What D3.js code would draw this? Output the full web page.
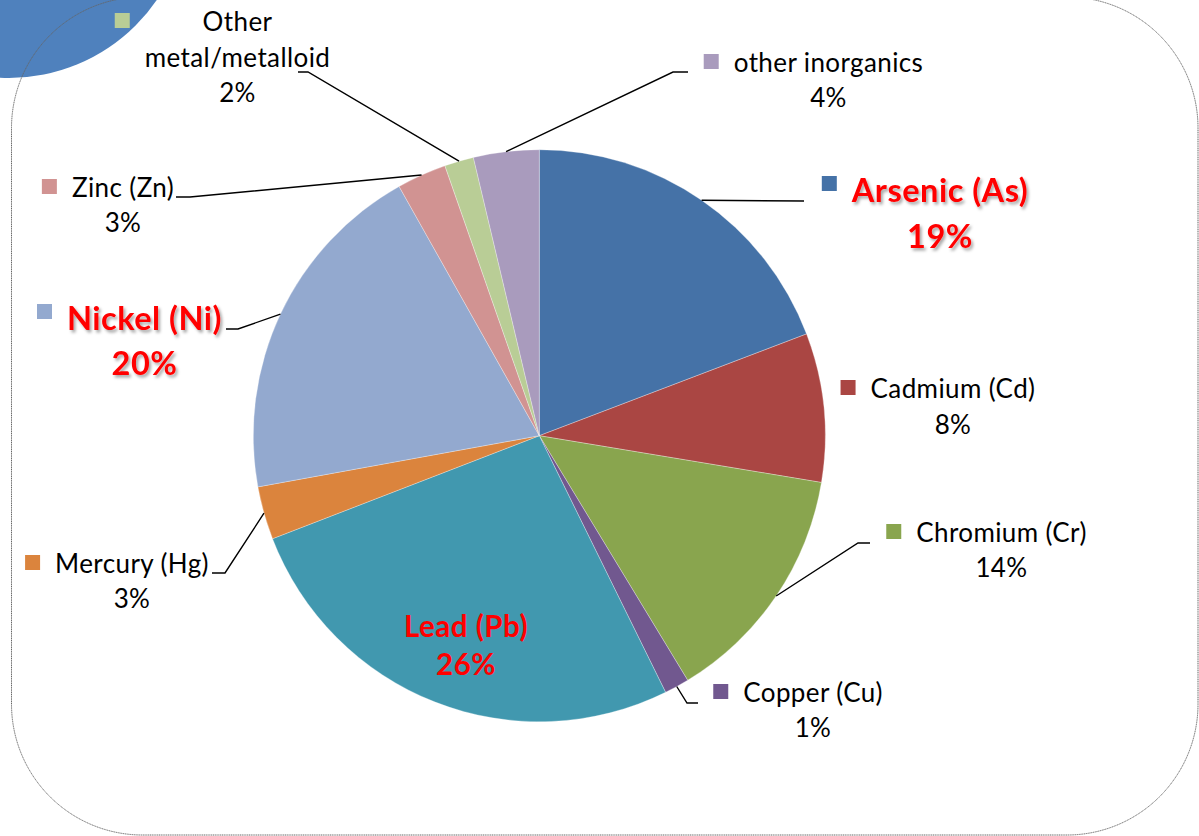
<!DOCTYPE html>
<html>
<head>
<meta charset="utf-8">
<script src="https://cdn.jsdelivr.net/npm/d3@7"></script>
<style>
  html, body { margin: 0; padding: 0; background: #ffffff; }
  svg { display: block; }
</style>
</head>
<body>
<div id="chart"></div>
<script>
// ---- data ----
const categories = ["Arsenic (As)", "Cadmium (Cd)", "Chromium (Cr)", "Copper (Cu)", "Lead (Pb)",
                    "Mercury (Hg)", "Nickel (Ni)", "Zinc (Zn)", "Other metal/metalloid", "other inorganics"];
const values = [19.2, 8.4, 13.7, 1.4, 26.4, 3.0, 19.7, 2.8, 1.65, 3.7];
const colors = ["#4572A7", "#AA4643", "#89A54E", "#71588F", "#4198AF",
                "#DB843D", "#93A9CF", "#D19392", "#B9CD96", "#A99BBD"];
const highlighted = ["Arsenic (As)", "Lead (Pb)", "Nickel (Ni)"];

// ---- layout (positions of label blocks, not data) ----
const labelLayout = {
  "Arsenic (As)":          { cx: 940,   y: 202, lh: 46, size: 32.5, key: true,  shadow: true,  elbow: [[804, 201]] },
  "Cadmium (Cd)":          { cx: 953,   y: 398, lh: 36, key: true,  elbow: null },
  "Chromium (Cr)":         { cx: 1001.5,y: 542, lh: 35, key: true,  elbow: [[858, 543], [870, 543]] },
  "Copper (Cu)":           { cx: 813,   y: 702, lh: 35, key: true,  elbow: [[687, 703], [698, 703]] },
  "Lead (Pb)":             { cx: 466,   y: 637, lh: 38, size: 29.5, key: false, elbow: null },
  "Mercury (Hg)":          { cx: 132,   y: 573, lh: 35, key: true,  elbow: [[225, 573], [212, 573]] },
  "Nickel (Ni)":           { cx: 144.5, y: 330, lh: 45, size: 32.5, key: true,  shadow: true, elbow: [[238, 329], [226, 329]] },
  "Zinc (Zn)":             { cx: 123,   y: 197, lh: 35, key: true,  elbow: [[190, 197], [176, 197]] },
  "Other metal/metalloid": { cx: 237.5, y: 31,  lh: 35.5, key: true, lines: ["Other", "metal/metalloid"], elbow: [[308, 72], [298, 72]] },
  "other inorganics":      { cx: 828.5, y: 72,  lh: 35, key: true,  elbow: [[673, 72], [688, 72]] }
};

const W = 1199, H = 836;
const cx = 539.3, cy = 435.7, R = 286;
const FONT = "Lato, 'Open Sans', sans-serif";

const svg = d3.select("#chart").append("svg").attr("width", W).attr("height", H);

const defs = svg.append("defs");
const f = defs.append("filter").attr("id", "shadow").attr("x", "-10%").attr("y", "-20%")
  .attr("width", "130%").attr("height", "150%");
f.append("feDropShadow").attr("dx", 2).attr("dy", 2.5).attr("stdDeviation", 1.6)
  .attr("flood-color", "#000").attr("flood-opacity", 0.35);

// decorative circle top-left
svg.append("circle").attr("cx", 9).attr("cy", -101).attr("r", 179).attr("fill", "#4F81BD");

// rounded frame
svg.append("rect").attr("x", 11.5).attr("y", -3).attr("width", 1186.5).attr("height", 838)
  .attr("rx", 131).attr("ry", 131)
  .attr("fill", "none").attr("stroke", "#666").attr("stroke-width", 1)
  .attr("stroke-dasharray", "1.2 0.6");

const total = d3.sum(values);
const data = categories.map((c, i) => ({ name: c, value: values[i], color: colors[i] }));

const pie = d3.pie().sort(null).value(d => d.value).startAngle(0).endAngle(2 * Math.PI);
const arcs = pie(data);
const arc = d3.arc().innerRadius(0).outerRadius(R);
const edge = d3.arc().innerRadius(R).outerRadius(R);

const g = svg.append("g").attr("transform", `translate(${cx},${cy})`);
g.selectAll("path.slice").data(arcs).join("path")
  .attr("class", "slice")
  .attr("d", arc)
  .attr("fill", d => d.data.color)
  .attr("stroke", "#ffffff").attr("stroke-opacity", 0.5).attr("stroke-width", 0.6);

// leader lines
const line = d3.line();
arcs.forEach(a => {
  const L = labelLayout[a.data.name];
  if (!L.elbow) return;
  const p = edge.centroid(a);
  const pts = [[p[0] + cx, p[1] + cy]].concat(L.elbow);
  svg.append("path").attr("d", line(pts))
    .attr("fill", "none").attr("stroke", "#000").attr("stroke-width", 1.4);
});

// labels
arcs.forEach(a => {
  const name = a.data.name;
  const L = labelLayout[name];
  const hl = highlighted.includes(name);
  const pct = Math.round(a.data.value / total * 100) + "%";
  const lines = (L.lines || [name]).concat([pct]);
  const lg = svg.append("g");
  const t = lg.append("text")
    .attr("text-anchor", "middle")
    .attr("font-family", FONT)
    .attr("font-size", L.size || 26)
    .attr("letter-spacing", hl ? 0.5 : 0.4)
    .attr("font-weight", hl ? "bold" : "normal")
    .attr("fill", hl ? "#FF0000" : "#000000");
  if (L.shadow) t.attr("filter", "url(#shadow)");
  lines.forEach((s, i) => {
    t.append("tspan").attr("x", L.cx).attr("y", L.y + i * L.lh).text(s);
  });
  if (L.key) {
    let maxW = 0;
    t.selectAll("tspan").each(function () { maxW = Math.max(maxW, this.getComputedTextLength()); });
    const left = L.cx - maxW / 2;
    lg.append("rect")
      .attr("x", left - 15 - 15).attr("y", L.y - (hl ? 26 : 18))
      .attr("width", 15).attr("height", 15)
      .attr("fill", a.data.color);
  }
});
</script>
</body>
</html>
